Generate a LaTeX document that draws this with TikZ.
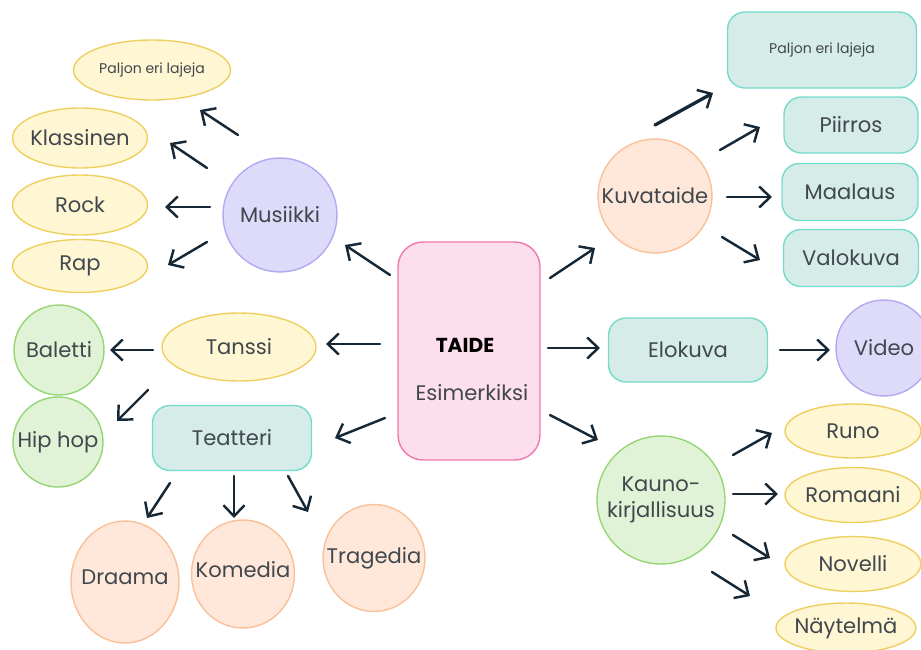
\documentclass[tikz,border=0pt]{standalone}
\usepackage{fontspec}
\setmainfont{Poppins}
\usetikzlibrary{arrows.meta,shapes.geometric}
\definecolor{mm_yellow}{RGB}{255, 246, 212}
\definecolor{mm_yellowd}{RGB}{238, 208, 96}
\definecolor{mm_purple}{RGB}{222, 219, 250}
\definecolor{mm_purpled}{RGB}{178, 170, 240}
\definecolor{mm_pink}{RGB}{253, 222, 236}
\definecolor{mm_pinkd}{RGB}{240, 120, 172}
\definecolor{mm_green}{RGB}{225, 243, 215}
\definecolor{mm_greend}{RGB}{150, 214, 118}
\definecolor{mm_teal}{RGB}{214, 236, 232}
\definecolor{mm_teald}{RGB}{118, 218, 204}
\definecolor{mm_peach}{RGB}{255, 232, 218}
\definecolor{mm_peachd}{RGB}{250, 192, 152}
\definecolor{mm_arrow}{RGB}{22, 40, 54}
\definecolor{mm_text}{RGB}{64, 72, 78}
\tikzstyle{ye}=[ellipse,fill=mm_yellow,draw=mm_yellowd,
  line width=0.8 pt,inner sep=0pt,font=\fontsize{12}{14}\selectfont]
\tikzstyle{pc}=[circle,fill=mm_purple,draw=mm_purpled,
  line width=0.8 pt,inner sep=0pt,font=\fontsize{12}{14}\selectfont]
\tikzstyle{gc}=[circle,fill=mm_green,draw=mm_greend,
  line width=0.8 pt,inner sep=0pt,font=\fontsize{12}{14}\selectfont]
\tikzstyle{oc}=[ellipse,fill=mm_peach,draw=mm_peachd,
  line width=0.8 pt,inner sep=0pt,font=\fontsize{12}{14}\selectfont]
\tikzstyle{tb}=[rectangle,rounded corners=0.35cm,fill=mm_teal,draw=mm_teald,
  line width=0.8 pt,inner sep=0pt,font=\fontsize{12}{14}\selectfont]
\tikzstyle{pb}=[rectangle,rounded corners=0.5cm,fill=mm_pink,draw=mm_pinkd,
  line width=0.8 pt,inner sep=0pt]
\tikzstyle{none}=[]
\tikzstyle{arr}=[draw=mm_arrow,line width=1.4pt,line cap=round,
  -{Straight Barb[length=2.2mm,width=4.2mm,line width=1.4pt]}]
\newcommand{\lbl}[1]{\makebox[0pt]{#1}}

\begin{document}
\begin{tikzpicture}[x=0.02cm, y=-0.02cm, every node/.style={text=mm_text}]
            \useasboundingbox (0, 0) rectangle (921, 650);
            \node [style=pb, minimum width=2.84cm, minimum height=4.36cm] (0) at (469, 351) {};
            \node [style=none, text=black, font=\fontsize{11.5}{13}\bfseries] (1) at (465, 345) {TAIDE};
            \node [style=none, font=\fontsize{12}{14}\selectfont] (2) at (472, 393) {Esimerkiksi};
            \node [style=pc, minimum size=2.28cm] (3) at (280, 215) {\lbl{Musiikki}};
            \node [style=ye, minimum width=3.14cm, minimum height=1.2cm, font=\fontsize{8}{10}\selectfont] (4) at (152, 70) {\lbl{Paljon eri lajeja}};
            \node [style=ye, minimum width=2.7cm, minimum height=1.2cm] (5) at (80, 138) {\lbl{Klassinen}};
            \node [style=ye, minimum width=2.7cm, minimum height=1.2cm] (6) at (80, 205) {\lbl{Rock}};
            \node [style=ye, minimum width=2.7cm, minimum height=1.06cm] (7) at (80, 266) {\lbl{Rap}};
            \node [style=ye, minimum width=3.08cm, minimum height=1.36cm] (8) at (239, 347) {\lbl{Tanssi}};
            \node [style=gc, minimum size=1.8cm] (9) at (59, 350) {\lbl{Baletti}};
            \node [style=gc, minimum size=1.8cm] (10) at (58, 442) {\lbl{Hip hop}};
            \node [style=tb, minimum width=3.18cm, minimum height=1.3cm] (11) at (232, 438) {Teatteri};
            \node [style=oc, minimum width=2.16cm, minimum height=2.44cm] (12) at (125, 582) {\lbl{\raisebox{0.2cm}{Draama}}};
            \node [style=oc, minimum width=2.06cm, minimum height=2.16cm] (13) at (243, 574) {\lbl{\raisebox{0.2cm}{Komedia}}};
            \node [style=oc, minimum width=2.04cm, minimum height=2.14cm] (14) at (374, 558) {\lbl{Tragedia}};
            \node [style=oc, shape=circle, minimum size=2.28cm] (15) at (655, 196) {\lbl{Kuvataide}};
            \node [style=tb, minimum width=3.78cm, minimum height=1.52cm, font=\fontsize{8}{10}\selectfont] (16) at (822, 50) {Paljon eri lajeja};
            \node [style=tb, minimum width=2.68cm, minimum height=1.12cm] (17) at (851, 125) {Piirros};
            \node [style=tb, minimum width=2.72cm, minimum height=1.14cm] (18) at (850, 192) {Maalaus};
            \node [style=tb, minimum width=2.7cm, minimum height=1.14cm] (19) at (851, 258) {Valokuva};
            \node [style=tb, minimum width=3.18cm, minimum height=1.28cm] (20) at (688, 350) {Elokuva};
            \node [style=pc, minimum size=1.92cm] (21) at (884, 348) {\lbl{Video}};
            \node [style=gc, minimum size=2.56cm, align=center, font=\fontsize{12}{15}\selectfont] (22) at (661, 500) {Kauno-\\kirjallisuus};
            \node [style=ye, minimum width=2.72cm, minimum height=1.08cm] (23) at (853, 431) {\lbl{Runo}};
            \node [style=ye, minimum width=2.72cm, minimum height=1.1cm] (24) at (853, 495) {\lbl{Romaani}};
            \node [style=ye, minimum width=2.72cm, minimum height=1.1cm] (25) at (853, 564) {\lbl{Novelli}};
            \node [style=ye, minimum width=2.8cm, minimum height=1cm] (26) at (846, 628) {\lbl{Näytelmä}};
            \node [style=none] (30) at (390, 275) {};
            \node [style=none] (31) at (345, 245) {};
            \node [style=none] (32) at (380, 344) {};
            \node [style=none] (33) at (326, 344) {};
            \node [style=none] (34) at (385, 418) {};
            \node [style=none] (35) at (335, 438) {};
            \node [style=none] (36) at (550, 278) {};
            \node [style=none] (37) at (595, 248) {};
            \node [style=none] (38) at (548, 348) {};
            \node [style=none] (39) at (600, 348) {};
            \node [style=none] (40) at (550, 415) {};
            \node [style=none] (41) at (598, 440) {};
            \node [style=none] (42) at (238, 135) {};
            \node [style=none] (43) at (200, 110) {};
            \node [style=none] (44) at (207, 168) {};
            \node [style=none] (45) at (170, 143) {};
            \node [style=none] (46) at (210, 207) {};
            \node [style=none] (47) at (165, 207) {};
            \node [style=none] (48) at (207, 242) {};
            \node [style=none] (49) at (168, 265) {};
            \node [style=none] (50) at (153, 350) {};
            \node [style=none] (51) at (110, 350) {};
            \node [style=none] (52) at (148, 390) {};
            \node [style=none] (53) at (117, 421) {};
            \node [style=none] (54) at (170, 483) {};
            \node [style=none] (55) at (147, 518) {};
            \node [style=none] (56) at (234, 476) {};
            \node [style=none] (57) at (234, 518) {};
            \node [style=none] (58) at (288, 476) {};
            \node [style=none] (59) at (308, 512) {};
            \node [style=none] (60) at (655, 125) {};
            \node [style=none] (61) at (713, 93) {};
            \node [style=none] (62) at (720, 150) {};
            \node [style=none] (63) at (760, 127) {};
            \node [style=none] (64) at (727, 197) {};
            \node [style=none] (65) at (772, 197) {};
            \node [style=none] (66) at (722, 237) {};
            \node [style=none] (67) at (760, 260) {};
            \node [style=none] (68) at (780, 350) {};
            \node [style=none] (69) at (830, 350) {};
            \node [style=none] (70) at (733, 455) {};
            \node [style=none] (71) at (772, 433) {};
            \node [style=none] (72) at (733, 494) {};
            \node [style=none] (73) at (778, 494) {};
            \node [style=none] (74) at (733, 535) {};
            \node [style=none] (75) at (770, 558) {};
            \node [style=none] (76) at (712, 572) {};
            \node [style=none] (77) at (750, 596) {};
            \draw [style=arr] (30.center) to (31.center);
            \draw [style=arr] (32.center) to (33.center);
            \draw [style=arr] (34.center) to (35.center);
            \draw [style=arr] (36.center) to (37.center);
            \draw [style=arr] (38.center) to (39.center);
            \draw [style=arr] (40.center) to (41.center);
            \draw [style=arr] (42.center) to (43.center);
            \draw [style=arr] (44.center) to (45.center);
            \draw [style=arr] (46.center) to (47.center);
            \draw [style=arr] (48.center) to (49.center);
            \draw [style=arr] (50.center) to (51.center);
            \draw [style=arr] (52.center) to (53.center);
            \draw [style=arr] (54.center) to (55.center);
            \draw [style=arr] (56.center) to (57.center);
            \draw [style=arr] (58.center) to (59.center);
            \draw [style=arr, line width=1.9pt] (60.center) to (61.center);
            \draw [style=arr] (62.center) to (63.center);
            \draw [style=arr] (64.center) to (65.center);
            \draw [style=arr] (66.center) to (67.center);
            \draw [style=arr] (68.center) to (69.center);
            \draw [style=arr] (70.center) to (71.center);
            \draw [style=arr] (72.center) to (73.center);
            \draw [style=arr] (74.center) to (75.center);
            \draw [style=arr] (76.center) to (77.center);
    \end{tikzpicture}
\end{document}
